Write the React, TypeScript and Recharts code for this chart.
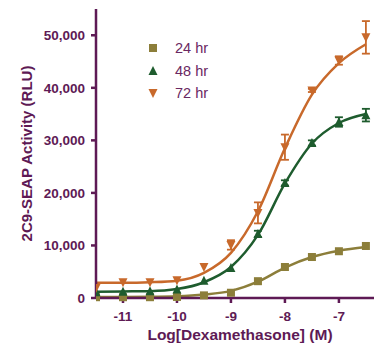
import {
  ComposedChart, ErrorBar, Legend, Line, XAxis, YAxis,
} from 'recharts'

/* Dose-response of 2C9-SEAP reporter vs dexamethasone, 24/48/72 hr. */

const doses = [-11.5, -11, -10.5, -10, -9.5, -9, -8.5, -8, -7.5, -7, -6.5]

const rlu24 = [150, 150, 150, 200, 500, 1000, 3200, 5900, 7800, 8900, 9900]
const fit24 = [200, 200, 220, 320, 650, 1350, 3100, 5800, 7800, 9000, 9700]

const rlu48 = [1100, 1200, 1300, 1600, 3300, 5700, 12200, 21900, 29500, 33500, 34800]
const err48 = [null, null, null, null, null, null, 600, 500, 500, 900, 1200]
const fit48 = [1200, 1250, 1300, 1700, 3000, 5900, 12000, 21800, 29400, 33300, 35000]

const rlu72 = [1900, 3000, 3000, 3400, 5900, 10100, 16200, 28700, 39500, 45200, 49600]
const err72 = [null, null, null, null, null, 900, 2000, 2400, 300, 800, 3100]
const fit72 = [2900, 2900, 3000, 3300, 4800, 8600, 16500, 28500, 38700, 44700, 48300]

const xTicks = [-11, -10, -9, -8, -7]
const yTicks = [0, 10000, 20000, 30000, 40000, 50000]

const PURPLE = '#5e1a55'
const OLIVE = '#8c7e3a'
const GREEN = '#1e5c2e'
const ORANGE = '#c8692b'
const FONT = '"Liberation Sans", Arial, sans-serif'

const data = doses.map((d, i) => ({
  dose: d,
  rlu24: rlu24[i], fit24: fit24[i],
  rlu48: rlu48[i], err48: err48[i], fit48: fit48[i],
  rlu72: rlu72[i], err72: err72[i], fit72: fit72[i],
}))

type Shape = 'square' | 'up' | 'down'

function marker(shape: Shape, color: string, cx: number, cy: number, key?: string | number) {
  if (shape === 'square') {
    return <rect key={key} x={cx - 4} y={cy - 4} width={8} height={8} fill={color} />
  }
  const h = 4.5
  const pts = shape === 'up'
    ? `${cx},${cy - h - 0.5} ${cx - h},${cy + h - 0.5} ${cx + h},${cy + h - 0.5}`
    : `${cx},${cy + h + 0.5} ${cx - h},${cy - h + 0.5} ${cx + h},${cy - h + 0.5}`
  return <polygon key={key} points={pts} fill={color} />
}

function dotFor(shape: Shape, color: string) {
  return (p: any) => {
    if (p.cx == null || p.cy == null) return <g key={p.index} />
    return marker(shape, color, p.cx, p.cy, p.index)
  }
}

const legendItems: { label: string; shape: Shape; color: string }[] = [
  { label: '24 hr', shape: 'square', color: OLIVE },
  { label: '48 hr', shape: 'up', color: GREEN },
  { label: '72 hr', shape: 'down', color: ORANGE },
]

function LegendBox() {
  return (
    <div style={{ fontFamily: FONT, fontSize: 14.5, color: '#6a2862' }}>
      {legendItems.map((it) => (
        <div key={it.label} style={{ display: 'flex', alignItems: 'center', height: 22.5 }}>
          <svg width={14} height={14} style={{ marginRight: 15 }}>
            {marker(it.shape, it.color, 7, 7)}
          </svg>
          <span>{it.label}</span>
        </div>
      ))}
    </div>
  )
}

const tickStyle = { fontSize: 13.5, fontWeight: 700, fill: PURPLE, fontFamily: FONT }

export default function App() {
  return (
    <div style={{ position: 'absolute', left: 0, top: 0, width: 376, height: 348, background: '#fff' }}>
      <ComposedChart width={376} height={348} data={data} margin={{ top: 9, right: 2, bottom: 0, left: 0 }}>
        <XAxis
          dataKey="dose" type="number" domain={[-11.5, -6.35]} allowDataOverflow ticks={xTicks}
          tick={tickStyle} tickSize={5} tickMargin={8} height={50}
          axisLine={{ stroke: PURPLE, strokeWidth: 2.5 }} tickLine={{ stroke: PURPLE, strokeWidth: 2.5 }}
          label={({ viewBox }: any) => (
            <text x={viewBox.x + viewBox.width / 2 + 5} y={viewBox.y + 42} textAnchor="middle"
              fontFamily={FONT} fontSize={15.5} fontWeight={700} fill={PURPLE}>
              Log[Dexamethasone] (M)
            </text>
          )}
        />
        <YAxis
          type="number" domain={[0, 55000]} ticks={yTicks} width={96}
          tickFormatter={(v: number) => v.toLocaleString('en-US')}
          tick={tickStyle} tickSize={5} tickMargin={6}
          axisLine={{ stroke: PURPLE, strokeWidth: 2.5 }} tickLine={{ stroke: PURPLE, strokeWidth: 2.5 }}
          label={({ viewBox }: any) => {
            const cx = 26
            const cy = viewBox.y + viewBox.height / 2
            return (
              <text x={cx} y={cy} transform={`rotate(-90 ${cx} ${cy})`} textAnchor="middle" dominantBaseline="central"
                fontFamily={FONT} fontSize={15} fontWeight={700} fill={PURPLE}>
                2C9-SEAP Activity (RLU)
              </text>
            )
          }}
        />
        <Legend verticalAlign="middle" layout="vertical" align="center"
          wrapperStyle={{ top: 37, left: 146, width: 'auto', height: 'auto' }}
          content={() => <LegendBox />} />

        <Line dataKey="fit24" type="monotone" stroke={OLIVE} strokeWidth={2.5} dot={false} isAnimationActive={false} />
        <Line dataKey="fit48" type="monotone" stroke={GREEN} strokeWidth={2.5} dot={false} isAnimationActive={false} />
        <Line dataKey="fit72" type="monotone" stroke={ORANGE} strokeWidth={2.5} dot={false} isAnimationActive={false} />

        <Line dataKey="rlu24" stroke="none" dot={dotFor('square', OLIVE)} activeDot={false} isAnimationActive={false} />
        <Line dataKey="rlu48" stroke="none" dot={dotFor('up', GREEN)} activeDot={false} isAnimationActive={false}>
          <ErrorBar dataKey="err48" width={4} stroke={GREEN} strokeWidth={1.8} direction="y" />
        </Line>
        <Line dataKey="rlu72" stroke="none" dot={dotFor('down', ORANGE)} activeDot={false} isAnimationActive={false}>
          <ErrorBar dataKey="err72" width={4} stroke={ORANGE} strokeWidth={1.8} direction="y" />
        </Line>
      </ComposedChart>
    </div>
  )
}
